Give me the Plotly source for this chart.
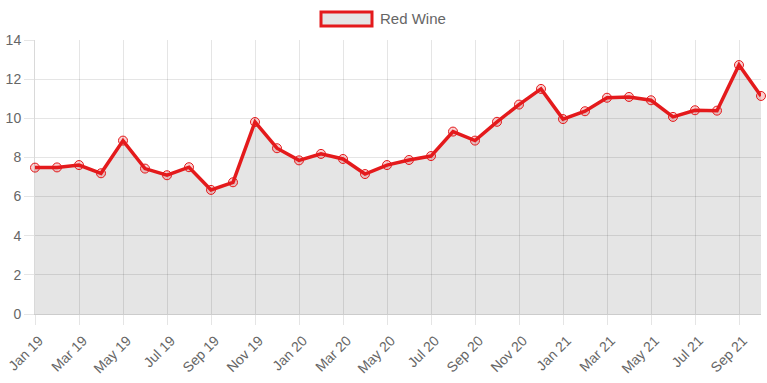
import plotly.graph_objects as go

months = ["Jan 19", "Feb 19", "Mar 19", "Apr 19", "May 19", "Jun 19", "Jul 19", "Aug 19",
          "Sep 19", "Oct 19", "Nov 19", "Dec 19",
          "Jan 20", "Feb 20", "Mar 20", "Apr 20", "May 20", "Jun 20", "Jul 20", "Aug 20",
          "Sep 20", "Oct 20", "Nov 20", "Dec 20",
          "Jan 21", "Feb 21", "Mar 21", "Apr 21", "May 21", "Jun 21", "Jul 21", "Aug 21",
          "Sep 21", "Oct 21"]
red_wine = [7.48, 7.49, 7.61, 7.19, 8.86, 7.43, 7.09, 7.50, 6.34, 6.73, 9.81, 8.47,
            7.85, 8.18, 7.92, 7.15, 7.61, 7.87, 8.07, 9.32, 8.86, 9.82, 10.70, 11.50,
            9.96, 10.36, 11.05, 11.09, 10.92, 10.07, 10.41, 10.39, 12.72, 11.14]
tick_labels = months[::2]
y_ticks = [0, 2, 4, 6, 8, 10, 12, 14]

RED = "#e41a1c"
GRID = "rgba(0,0,0,0.1)"

fig = go.Figure()
fig.add_trace(go.Scatter(
    x=months, y=red_wine, name="Red Wine",
    mode="lines+markers", fill="tozeroy", fillcolor="rgba(0,0,0,0.1)",
    line=dict(color=RED, width=3.5),
    marker=dict(symbol="circle", size=9, color="rgba(228,26,28,0.2)",
                line=dict(color=RED, width=1)),
    cliponaxis=False, showlegend=False,
))

W, H = 767, 383
L, R, T, B = 35, 6, 40, 69
pw, ph = W - L - R, H - T - B

def px(x):
    return (x - L) / pw

def py(y):
    return (H - B - y) / ph

fig.add_shape(type="rect", xref="paper", yref="paper",
              x0=px(321), x1=px(372), y0=py(26), y1=py(12),
              line=dict(color=RED, width=3), fillcolor="rgba(0,0,0,0.1)")
fig.add_annotation(text="Red Wine", xref="paper", yref="paper",
                   x=px(378), y=py(19), xanchor="left", yanchor="middle",
                   showarrow=False, font=dict(size=15, color="#666"))

fig.update_layout(
    width=W, height=H, autosize=False,
    margin=dict(l=L, r=R, t=T, b=B),
    paper_bgcolor="white", plot_bgcolor="white",
    font=dict(family="Liberation Sans, Arial, sans-serif", color="#666"),
    xaxis=dict(type="category", range=[0, len(months) - 1], automargin=False,
               tickmode="array", tickvals=tick_labels, ticktext=tick_labels,
               tickangle=-45, tickfont=dict(size=14, color="#666"),
               ticklabelshift=4, ticklabelstandoff=2,
               showgrid=True, gridcolor=GRID, gridwidth=1,
               ticks="outside", ticklen=10, tickcolor=GRID,
               showline=True, linecolor="rgba(0,0,0,0.2)", linewidth=1,
               zeroline=False),
    yaxis=dict(range=[0, 14], tickmode="array", tickvals=y_ticks, automargin=False,
               tickfont=dict(size=14, color="#666"),
               showgrid=True, gridcolor=GRID, gridwidth=1,
               ticks="outside", ticklen=10, tickcolor=GRID,
               showline=True, linecolor="rgba(0,0,0,0.15)", linewidth=1,
               zeroline=False),
)

fig.write_html("out.html", config={"displayModeBar": False},
               post_script="document.body.style.margin='0';document.body.style.overflow='hidden';")
